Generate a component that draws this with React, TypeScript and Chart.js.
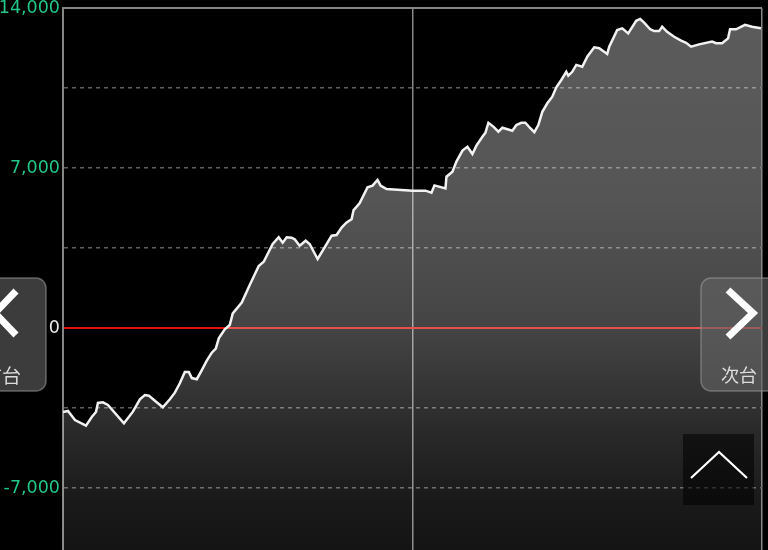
import React, { useEffect, useRef } from "react";
import { Chart, registerables } from "chart.js";

Chart.register(...registerables);

// game count (x) and balance difference (y)
const games: number[] = [
  0, 5, 12, 23, 29, 33, 35, 40, 45, 61, 70, 77, 82, 86, 92, 100, 107, 112, 117, 122,
  126, 129, 134, 139, 144, 149, 153, 156, 162, 167, 170, 179, 187, 196, 201, 210, 216, 220, 224, 229,
  232, 237, 243, 247, 255, 262, 269, 274, 279, 284, 289, 291, 297, 305, 310, 315, 318, 324, 350, 363,
  369, 372, 383, 384, 390, 394, 400, 405, 410, 414, 420, 423, 426, 431, 436, 440, 450, 454, 459, 463,
  468, 472, 476, 480, 485, 490, 494, 499, 504, 506, 510, 514, 520, 525, 532, 537, 545, 547, 555, 560,
  566, 574, 578, 582, 588, 592, 597, 600, 605, 612, 619, 624, 629, 637, 650, 654, 660, 666, 668, 674,
  683, 690, 699,
];
const diffs: number[] = [
  -3675, -3630, -4025, -4270, -3880, -3675, -3280, -3250, -3370, -4170, -3660, -3120, -2930, -2960, -3180, -3470, -3120, -2830, -2420, -1925,
  -1925, -2190, -2240, -1840, -1430, -1080, -905, -450, -60, 130, 640, 1110, 1880, 2710, 2900, 3675, 3970, 3730, 3970, 3950,
  3880, 3600, 3820, 3675, 3020, 3530, 4040, 4070, 4390, 4620, 4760, 5160, 5460, 6160, 6230, 6475, 6230, 6080, 6010, 6010,
  5920, 6240, 6110, 6620, 6840, 7280, 7760, 7930, 7610, 7980, 8370, 8540, 8980, 8810, 8590, 8760, 8630, 8880, 8980, 8980,
  8740, 8570, 8880, 9460, 9830, 10120, 10530, 10850, 11210, 11040, 11210, 11510, 11430, 11870, 12280, 12240, 11990, 12310, 13040, 13110,
  12890, 13440, 13520, 13360, 13070, 12990, 12990, 13180, 12960, 12740, 12570, 12480, 12310, 12410, 12530, 12460, 12460, 12670, 13070, 13070,
  13260, 13180, 13110,
];

const yMin = -14000;
const yMax = 14000;
const yStep = 3500;
const labelStep = 7000;
const xMax = 700;
const xStep = 350;

const GREEN = "#22c68b";

export default function App() {
  const ref = useRef<HTMLCanvasElement | null>(null);

  useEffect(() => {
    document.body.style.margin = "0";
    document.body.style.background = "#000";
    const canvas = ref.current;
    if (!canvas) return;
    const points = games.map((g, i) => ({ x: g, y: diffs[i] }));

    const chart = new Chart(canvas, {
      type: "line",
      data: {
        datasets: [
          {
            data: points,
            borderColor: "#f2f2f2",
            borderWidth: 2.5,
            pointRadius: 0,
            tension: 0,
            fill: "start",
            backgroundColor: (ctx: any) => {
              const c = ctx.chart;
              const area = c.chartArea;
              if (!area) return "rgba(255,255,255,0.3)";
              const g = c.ctx.createLinearGradient(0, area.top, 0, area.bottom);
              const h = area.bottom - area.top;
              const stop = (y: number, a: number) => {
                const f = Math.min(1, Math.max(0, (y - area.top) / h));
                g.addColorStop(f, `rgba(255,255,255,${a})`);
              };
              stop(8, 0.36);
              stop(200, 0.335);
              stop(330, 0.265);
              stop(430, 0.165);
              stop(500, 0.1);
              stop(550, 0.08);
              stop(648, 0.05);
              return g;
            },
          },
        ],
      },
      options: {
        responsive: false,
        animation: false,
        layout: { padding: { top: 8, right: 6, bottom: 12, left: 0 } },
        plugins: { legend: { display: false }, tooltip: { enabled: false } },
        scales: {
          x: {
            type: "linear",
            min: 0,
            max: xMax,
            ticks: { display: false, stepSize: xStep },
            grid: { color: "#858585", lineWidth: 1.5, drawTicks: false },
            border: { display: false },
          },
          y: {
            type: "linear",
            min: yMin,
            max: yMax,
            afterFit: (scale: any) => {
              scale.width = 63;
              scale.paddingTop = 0;
              scale.paddingBottom = 0;
            },
            ticks: {
              stepSize: yStep,
              padding: 3,
              font: { family: "DejaVu Sans", size: 17.5 },
              color: (ctx: any) => (ctx.tick && ctx.tick.value === 0 ? "#e6e6e6" : GREEN),
              callback: (v: any) =>
                Number(v) % labelStep === 0 ? Number(v).toLocaleString("en-US") : "",
            },
            grid: {
              drawTicks: false,
              color: (ctx: any) => {
                const v = ctx.tick ? ctx.tick.value : null;
                if (v === 0) return "#e01010";
                if (v === yMax) return "#858585";
                return "#5e5e5e";
              },
              lineWidth: (ctx: any) => {
                const v = ctx.tick ? ctx.tick.value : null;
                if (v === 0 || v === yMax) return 2;
                return 1.5;
              },
            },
            border: {
              display: true,
              color: "#858585",
              width: 2,
              dash: (ctx: any) => {
                const v = ctx.tick ? ctx.tick.value : null;
                if (v === 0 || v === yMax) return [];
                return [4, 4];
              },
            },
          },
        },
      },
    } as any);
    return () => chart.destroy();
  }, []);

  const btnFill = "rgba(100,100,100,0.6)";
  const btnStroke = "rgba(150,150,150,0.6)";

  return (
    <div style={{ position: "fixed", left: 0, top: 0, width: 768, height: 660, background: "#000" }}>
      <canvas ref={ref} width={768} height={660} style={{ position: "absolute", left: 0, top: 0 }} />
      <svg
        width={768}
        height={550}
        style={{ position: "absolute", left: 0, top: 0, pointerEvents: "none" }}
      >
        <rect x={-50} y={278} width={96} height={113} rx={10} ry={10} fill={btnFill} stroke={btnStroke} strokeWidth={1.5} />
        <polyline points="16,291 -5,313 16,335" fill="none" stroke="#fff" strokeWidth={7} />
        <text x={2} y={383} textAnchor="middle" fill="#dddddd" fontSize={19} fontFamily="Noto Sans CJK JP">前台</text>

        <rect x={701} y={278} width={100} height={113} rx={10} ry={10} fill={btnFill} stroke={btnStroke} strokeWidth={1.5} />
        <polyline points="728,290 753,313 728,337" fill="none" stroke="#fff" strokeWidth={7} />
        <text x={739} y={382} textAnchor="middle" fill="#dddddd" fontSize={18} fontFamily="Noto Sans CJK JP">次台</text>

        <rect x={683} y={434} width={71} height={71} fill="rgba(0,0,0,0.55)" />
        <polyline points="691,478 719,452 747,478" fill="none" stroke="#fff" strokeWidth={2.2} />
      </svg>
    </div>
  );
}
